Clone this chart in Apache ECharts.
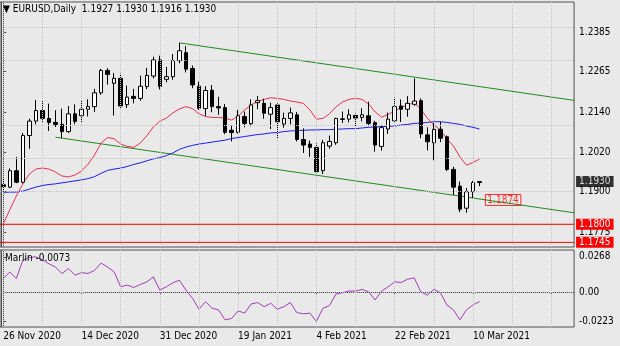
<!DOCTYPE html>
<html>
<head>
<meta charset="utf-8">
<script src="https://cdn.jsdelivr.net/npm/echarts@6/dist/echarts.min.js"></script>
<style>
  html, body { margin: 0; padding: 0; background: #e9e9e9; }
  #chart { width: 620px; height: 346px; }
</style>
</head>
<body>
<div id="chart"></div>
<script>
// EURUSD daily candles, 26 Nov 2020 - 11 Mar 2021
const symbol = 'EURUSD';
const timeframe = 'Daily';

const dates = [
  '26 Nov 2020','27 Nov 2020','30 Nov 2020','1 Dec 2020','2 Dec 2020','3 Dec 2020','4 Dec 2020',
  '7 Dec 2020','8 Dec 2020','9 Dec 2020','10 Dec 2020','11 Dec 2020','14 Dec 2020','15 Dec 2020',
  '16 Dec 2020','17 Dec 2020','18 Dec 2020','21 Dec 2020','22 Dec 2020','23 Dec 2020','24 Dec 2020',
  '28 Dec 2020','29 Dec 2020','30 Dec 2020','31 Dec 2020','4 Jan 2021','5 Jan 2021','6 Jan 2021',
  '7 Jan 2021','8 Jan 2021','11 Jan 2021','12 Jan 2021','13 Jan 2021','14 Jan 2021','15 Jan 2021',
  '18 Jan 2021','19 Jan 2021','20 Jan 2021','21 Jan 2021','22 Jan 2021','25 Jan 2021','26 Jan 2021',
  '27 Jan 2021','28 Jan 2021','29 Jan 2021','1 Feb 2021','2 Feb 2021','3 Feb 2021','4 Feb 2021',
  '5 Feb 2021','8 Feb 2021','9 Feb 2021','10 Feb 2021','11 Feb 2021','12 Feb 2021','15 Feb 2021',
  '16 Feb 2021','17 Feb 2021','18 Feb 2021','19 Feb 2021','22 Feb 2021','23 Feb 2021','24 Feb 2021',
  '25 Feb 2021','26 Feb 2021','1 Mar 2021','2 Mar 2021','3 Mar 2021','4 Mar 2021','5 Mar 2021',
  '8 Mar 2021','9 Mar 2021','10 Mar 2021','11 Mar 2021'
];

const opens = [
  1.1920,1.1913,1.1963,1.1928,1.2070,1.2114,1.2146,1.2122,1.2110,1.2104,1.2082,1.2136,1.2130,1.2150,
  1.2158,1.2200,1.2268,1.2229,1.2244,1.2164,1.2189,1.2183,1.2219,1.2251,1.2300,1.2241,1.2249,1.2298,
  1.2322,1.2274,1.2220,1.2152,1.2208,1.2158,1.2155,1.2086,1.2080,1.2128,1.2106,1.2170,1.2168,1.2135,
  1.2163,1.2105,1.2122,1.2133,1.2058,1.2044,1.2034,1.1963,1.2038,1.2048,1.2119,1.2120,1.2131,1.2125,
  1.2130,1.2109,1.2037,1.2090,1.2115,1.2160,1.2150,1.2165,1.2176,1.2072,1.2048,1.2089,1.2066,1.1967,
  1.1916,1.1849,1.1899,1.1927
];
const highs = [
  1.1941,1.1970,1.2005,1.2078,1.2121,1.2178,1.2177,1.2167,1.2147,1.2152,1.2160,1.2165,1.2178,1.2180,
  1.2212,1.2273,1.2275,1.2260,1.2258,1.2222,1.2212,1.2252,1.2276,1.2310,1.2313,1.2279,1.2318,1.2352,
  1.2342,1.2283,1.2234,1.2220,1.2224,1.2188,1.2166,1.2100,1.2148,1.2143,1.2180,1.2190,1.2182,1.2170,
  1.2168,1.2140,1.2155,1.2142,1.2092,1.2055,1.2046,1.2057,1.2070,1.2124,1.2143,1.2150,1.2137,1.2153,
  1.2173,1.2115,1.2100,1.2140,1.2185,1.2180,1.2190,1.2244,1.2183,1.2095,1.2108,1.2112,1.2070,1.1975,
  1.1930,1.1910,1.1932,1.1930
];
const lows = [
  1.1900,1.1910,1.1925,1.1924,1.2030,1.2104,1.2110,1.2084,1.2096,1.2062,1.2078,1.2104,1.2110,1.2128,
  1.2142,1.2194,1.2225,1.2131,1.2153,1.2154,1.2168,1.2176,1.2211,1.2244,1.2210,1.2232,1.2240,1.2290,
  1.2262,1.2214,1.2148,1.2130,1.2141,1.2133,1.2074,1.2052,1.2076,1.2095,1.2098,1.2150,1.2121,1.2090,
  1.2059,1.2094,1.2104,1.2052,1.2017,1.2005,1.1955,1.1953,1.2030,1.2042,1.2108,1.2110,1.2096,1.2113,
  1.2098,1.2021,1.2024,1.2075,1.2112,1.2111,1.2127,1.2160,1.2062,1.2025,1.1995,1.2050,1.1962,1.1889,
  1.1837,1.1835,1.1880,1.1916
];
const closes = [
  1.1915,1.1963,1.1928,1.2070,1.2114,1.2146,1.2122,1.2110,1.2104,1.2082,1.2136,1.2113,1.2150,1.2158,
  1.2200,1.2268,1.2256,1.2244,1.2160,1.2187,1.2183,1.2220,1.2253,1.2300,1.2219,1.2249,1.2298,1.2328,
  1.2272,1.2224,1.2153,1.2207,1.2158,1.2154,1.2080,1.2079,1.2130,1.2107,1.2163,1.2176,1.2138,1.2155,
  1.2112,1.2122,1.2139,1.2058,1.2041,1.2034,1.1960,1.2048,1.2052,1.2122,1.2121,1.2133,1.2123,1.2133,
  1.2107,1.2041,1.2094,1.2120,1.2158,1.2150,1.2168,1.2175,1.2075,1.2051,1.2089,1.2062,1.1967,1.1913,
  1.1846,1.1899,1.1927,1.1930
];

// fast (red) and slow (blue) moving averages
const maFast = [
  1.1801,1.1844,1.1886,1.1923,1.1953,1.1968,1.1971,1.1968,1.1959,1.1947,1.1944,1.1950,1.1962,1.1983,
  1.2011,1.2047,1.2064,1.2060,1.2044,1.2037,1.2034,1.2047,1.2069,1.2096,1.2114,1.2123,1.2139,1.2151,
  1.2158,1.2152,1.2136,1.2128,1.2125,1.2125,1.2123,1.2117,1.2129,1.2148,1.2163,1.2174,1.2180,1.2185,
  1.2183,1.2180,1.2175,1.2172,1.2168,1.2148,1.2120,1.2122,1.2136,1.2157,1.2172,1.2180,1.2183,1.2180,
  1.2166,1.2142,1.2126,1.2134,1.2145,1.2155,1.2164,1.2169,1.2151,1.2123,1.2102,1.2087,1.2060,1.2038,
  1.2005,1.1980,1.1988,1.1998
];
const maSlow = [
  1.1897,1.1898,1.1898,1.1901,1.1907,1.1913,1.1918,1.1921,1.1923,1.1926,1.1929,1.1932,1.1935,1.1939,
  1.1945,1.1955,1.1964,1.1968,1.1971,1.1976,1.1982,1.1987,1.1993,1.1999,1.2003,1.2009,1.2017,1.2028,
  1.2035,1.2040,1.2044,1.2047,1.2050,1.2053,1.2056,1.2061,1.2064,1.2067,1.2070,1.2073,1.2075,1.2078,
  1.2079,1.2082,1.2084,1.2085,1.2086,1.2087,1.2087,1.2088,1.2088,1.2089,1.2090,1.2091,1.2091,1.2093,
  1.2095,1.2096,1.2097,1.2098,1.2099,1.2102,1.2104,1.2107,1.2108,1.2110,1.2112,1.2112,1.2110,1.2107,
  1.2104,1.2099,1.2095,1.2090
];

// Marlin oscillator
const marlin = [
  0.0103,0.0153,0.0103,0.0241,0.0262,0.0268,0.0245,0.0215,0.0190,0.0141,0.0178,0.0128,0.0148,0.0141,
  0.0165,0.0220,0.0190,0.0153,0.0040,0.0053,0.0035,0.0058,0.0077,0.0115,0.0015,0.0040,0.0070,0.0090,
  0.0015,-0.0047,-0.0130,-0.0073,-0.0123,-0.0135,-0.0211,-0.0201,-0.0143,-0.0160,-0.0090,-0.0080,
  -0.0111,-0.0085,-0.0130,-0.0111,-0.0080,-0.0156,-0.0165,-0.0160,-0.0223,-0.0123,-0.0103,-0.0015,
  -0.0005,0.0008,0.0008,0.0020,0.0002,-0.0060,0.0008,0.0040,0.0077,0.0073,0.0098,0.0108,0.0002,
  -0.0023,0.0020,-0.0005,-0.0098,-0.0135,-0.0211,-0.0135,-0.0098,-0.0073
];

// axis ticks
const priceTicks = [1.2385, 1.2265, 1.2140, 1.2020, 1.1900, 1.1775];
const marlinTicks = [0.0268, 0, -0.0223];
const dateLabelStep = 12;
const gridStep = 6;

// drawn objects
const levelLines = [1.1800, 1.1745];
const channelUpper = [[27, 1.2352], [87.5, 1.2177]];
const channelLower = [[8, 1.2065], [87.5, 1.1835]];
const priceTag = { bar: 73.9, price: 1.1874 };

// layout
const SLOTS = 88;
const FONT = '"DejaVu Sans Condensed", "DejaVu Sans", sans-serif';
const BG = '#e9e9e9';
const FRAME = '#505050';
const GRID = '#c4c4c4';

const cats = dates.concat(new Array(SLOTS - dates.length).fill(''));
const candles = dates.map((d, i) => [opens[i], closes[i], lows[i], highs[i]]);
const last = dates.length - 1;
const fmt4 = v => v.toFixed(4);

const gridMain = { left: -0.56, top: 2, width: 574.64, height: 245 };
const gridOsc = { left: -0.56, top: 250, width: 574.64, height: 77 };

const vLines = [];
for (let i = 0; i < SLOTS; i += gridStep) vLines.push({ xAxis: i });

// horizontal support levels, one series each, tagged on the price scale
const levelSeries = levelLines.map(v => ({
  type: 'line', xAxisIndex: 2, yAxisIndex: 0, silent: true, z: 5,
  data: [[-0.5, v], [SLOTS - 0.5, v]], symbol: 'none',
  lineStyle: { color: '#ff0000', width: 1 },
  endLabel: { show: true, distance: 2, formatter: () => fmt4(v),
    color: '#fff', backgroundColor: '#ff0000', padding: [1, 3, 0, 3],
    fontSize: 10, fontFamily: FONT }
}));

const chart = echarts.init(document.getElementById('chart'), null, { renderer: 'canvas' });

chart.setOption({
  animation: false,
  backgroundColor: BG,
  textStyle: { fontFamily: FONT },
  title: [{
    text: '\u25BC ' + symbol + ',' + timeframe + '  ' +
      [opens[last], highs[last], lows[last], closes[last]].map(fmt4).join(' '),
    left: 3, top: 4, padding: 0,
    textStyle: { fontFamily: FONT, fontSize: 10, fontWeight: 'normal', color: '#000' }
  }, {
    text: 'Marlin ' + fmt4(marlin[last]),
    left: 5, top: 253, padding: 0,
    textStyle: { fontFamily: FONT, fontSize: 10, fontWeight: 'normal', color: '#000' }
  }],
  graphic: [
    { type: 'line', silent: true, shape: { x1: 1.5, y1: 2, x2: 1.5, y2: 247 }, style: { stroke: FRAME, lineWidth: 1 } },
    { type: 'line', silent: true, shape: { x1: 1.5, y1: 250, x2: 1.5, y2: 327 }, style: { stroke: FRAME, lineWidth: 1 } }
  ],
  grid: [
    Object.assign({ show: true, borderColor: FRAME, borderWidth: 1, backgroundColor: 'transparent' }, gridMain),
    Object.assign({ show: true, borderColor: FRAME, borderWidth: 1, backgroundColor: 'transparent' }, gridOsc)
  ],
  xAxis: [
    { type: 'category', gridIndex: 0, data: cats, boundaryGap: true,
      axisLine: { show: false }, axisTick: { show: false }, axisLabel: { show: false }, splitLine: { show: false } },
    { type: 'category', gridIndex: 1, data: cats, boundaryGap: true,
      axisLine: { show: true, lineStyle: { color: FRAME } },
      axisTick: { show: true, alignWithLabel: true, length: 3, lineStyle: { color: FRAME },
        interval: i => i % dateLabelStep === 0 },
      axisLabel: { show: true, interval: i => i % dateLabelStep === 0, align: 'left', margin: 4,
        fontSize: 10, color: '#000', fontFamily: FONT },
      splitLine: { show: false } },
    { type: 'value', gridIndex: 0, min: -0.5, max: SLOTS - 0.5, show: false },
    { type: 'value', gridIndex: 1, min: -0.5, max: SLOTS - 0.5, show: false }
  ],
  yAxis: [
    { type: 'value', gridIndex: 0, position: 'right', min: 1.17309, max: 1.24763,
      axisLine: { show: true, lineStyle: { color: FRAME } },
      axisTick: { show: true, length: 3, customValues: priceTicks, lineStyle: { color: FRAME } },
      axisLabel: { show: true, customValues: priceTicks, formatter: fmt4, margin: 5,
        fontSize: 10, color: '#000', fontFamily: FONT },
      splitLine: { show: false } },
    { type: 'value', gridIndex: 1, position: 'right', min: -0.02654, max: 0.03195,
      axisLine: { show: true, lineStyle: { color: FRAME } },
      axisTick: { show: true, length: 3, customValues: marlinTicks, lineStyle: { color: FRAME } },
      axisLabel: { show: true, customValues: marlinTicks, margin: 5,
        formatter: v => (v === 0 ? '0.00' : fmt4(v)),
        fontSize: 10, color: '#000', fontFamily: FONT },
      splitLine: { show: false } }
  ],
  series: [
    // dotted grid of the price panel
    { type: 'line', xAxisIndex: 2, yAxisIndex: 0, data: [], silent: true, z: 0,
      markLine: { silent: true, symbol: 'none', label: { show: false },
        lineStyle: { type: 'dotted', color: GRID, width: 1 },
        data: priceTicks.map(v => ({ yAxis: v })).concat(vLines) } },
    // dotted grid of the oscillator panel
    { type: 'line', xAxisIndex: 3, yAxisIndex: 1, data: [], silent: true, z: 0,
      markLine: { silent: true, symbol: 'none', label: { show: false },
        lineStyle: { type: 'dotted', color: GRID, width: 1 },
        data: [{ yAxis: 0 }].concat(vLines) } },
    ...levelSeries,
    // trend channel
    { type: 'line', xAxisIndex: 2, yAxisIndex: 0, data: channelUpper, symbol: 'none', z: 2,
      lineStyle: { color: '#1f8a1f', width: 1 } },
    { type: 'line', xAxisIndex: 2, yAxisIndex: 0, data: channelLower, symbol: 'none', z: 2,
      lineStyle: { color: '#1f8a1f', width: 1 } },
    // moving averages
    { type: 'line', xAxisIndex: 0, yAxisIndex: 0, data: maSlow, symbol: 'none', z: 3,
      lineStyle: { color: '#1c1cf5', width: 1 } },
    { type: 'line', xAxisIndex: 0, yAxisIndex: 0, data: maFast, symbol: 'none', z: 3,
      lineStyle: { color: '#e8304f', width: 1 } },
    // price candles
    { type: 'candlestick', xAxisIndex: 0, yAxisIndex: 0, data: candles, barWidth: 4, z: 4,
      itemStyle: { color: '#ffffff', color0: '#000000', borderColor: '#000000', borderColor0: '#000000', borderWidth: 1 } },
    // current price tag on the axis
    { type: 'scatter', xAxisIndex: 2, yAxisIndex: 0, data: [[SLOTS - 0.5, closes[last]]], symbolSize: 0, z: 6,
      label: { show: true, position: 'right', distance: 2, formatter: p => fmt4(p.value[1]),
        color: '#fff', backgroundColor: '#000', padding: [1, 3, 0, 3], fontSize: 10, fontFamily: FONT } },
    // price label object
    { type: 'scatter', xAxisIndex: 2, yAxisIndex: 0, data: [[priceTag.bar, priceTag.price]], symbolSize: 0, z: 6,
      label: { show: true, position: 'right', distance: 0, formatter: p => fmt4(p.value[1]),
        color: '#ff0000', borderColor: '#ff0000', borderWidth: 1, padding: [1, 2, 0, 2],
        fontSize: 10, fontFamily: FONT } },
    // oscillator
    { type: 'line', xAxisIndex: 1, yAxisIndex: 1, data: marlin, symbol: 'none', z: 3,
      lineStyle: { color: '#a23cb8', width: 1 } }
  ]
});
</script>
</body>
</html>
